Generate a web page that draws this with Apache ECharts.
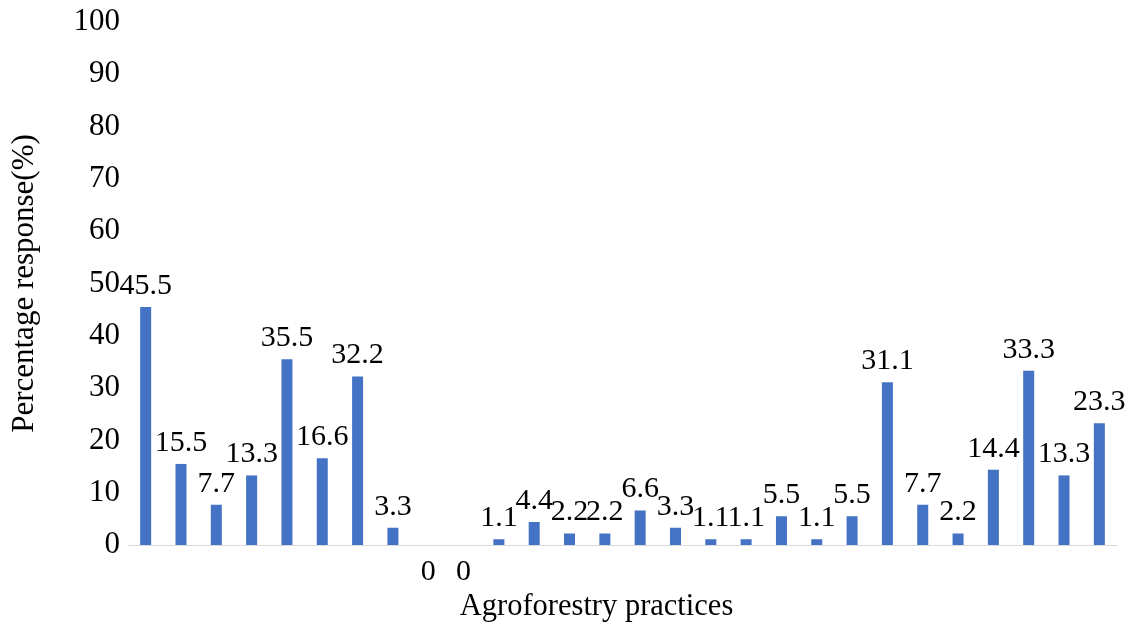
<!DOCTYPE html>
<html><head><meta charset="utf-8">
<script src="https://cdn.jsdelivr.net/npm/echarts@6/dist/echarts.min.js"></script>
<style>html,body{margin:0;padding:0;background:#fff}#c{width:1141px;height:624px}</style>
</head><body><div id="c"></div>
<script>
const categories = ['P1','P2','P3','P4','P5','P6','P7','P8','P9','P10','P11','P12','P13','P14','P15','P16','P17','P18','P19','P20','P21','P22','P23','P24','P25','P26','P27','P28'];
const values = [45.5,15.5,7.7,13.3,35.5,16.6,32.2,3.3,0,0,1.1,4.4,2.2,2.2,6.6,3.3,1.1,1.1,5.5,1.1,5.5,31.1,7.7,2.2,14.4,33.3,13.3,23.3];
const yTicks = [0,10,20,30,40,50,60,70,80,90,100];
const FONT = '"Liberation Serif", "Times New Roman", serif';
const chart = echarts.init(document.getElementById('c'));
chart.setOption({
  animation:false,
  grid:{left:128,right:24,top:22,bottom:79,containLabel:false,outerBoundsMode:'none'},
  xAxis:{type:'category',data:categories,
    name:'Agroforestry practices',nameLocation:'middle',nameGap:46,
    nameTextStyle:{fontFamily:FONT,fontSize:30.5,color:'#000',padding:[0,52,0,0]},
    axisLine:{lineStyle:{color:'#d9d9d9',width:1}},axisTick:{show:false},axisLabel:{show:false}},
  yAxis:{type:'value',min:yTicks[0],max:yTicks[yTicks.length-1],interval:10,
    name:'Percentage response(%)',nameLocation:'middle',nameGap:88,
    nameTextStyle:{fontFamily:FONT,fontSize:31,color:'#000'},
    axisLine:{show:false},axisTick:{show:false},splitLine:{show:false},
    axisLabel:{fontFamily:FONT,fontSize:31,color:'#000',margin:8}},
  series:[{type:'bar',barWidth:11,itemStyle:{color:'#4472C4'},
    data:values.map(v=>v===0?{value:v,label:{position:'bottom',distance:12}}:v),
    label:{show:true,position:'top',distance:6,fontFamily:FONT,fontSize:30,color:'#000'}}]
});
</script></body></html>
